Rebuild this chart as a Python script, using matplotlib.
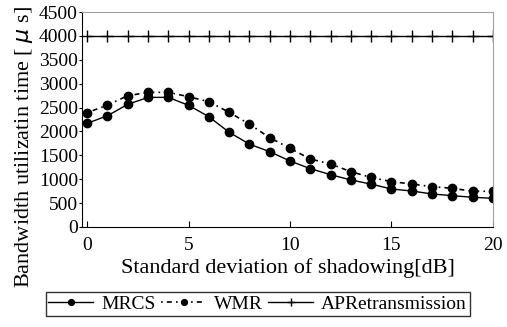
import matplotlib.pyplot as plt

plt.rcParams['font.family'] = ['Liberation Serif', 'DejaVu Serif']

# standard deviation of shadowing [dB]
sigma = list(range(0, 21))

mrcs = [2170, 2330, 2568, 2714, 2714, 2547, 2309, 1982, 1734, 1576, 1381,
        1221, 1095, 984, 897, 795, 753, 691, 655, 621, 600]
wmr = [2393, 2553, 2749, 2819, 2819, 2728, 2623, 2400, 2152, 1869, 1647,
       1423, 1319, 1158, 1036, 949, 900, 844, 810, 747, 747]
apr = [4000] * len(sigma)

fig = plt.figure(figsize=(5.07, 3.27), dpi=100)
ax = fig.add_axes([0.162, 0.306, 0.810, 0.657])

ax.plot(sigma, mrcs, color='black', lw=1, marker='o', ms=6, label='MRCS')
ax.plot(sigma, wmr, color='black', lw=1.2, ls=(0, (1, 2.5, 3, 2.5)), marker='o',
        ms=6, label='WMR')
ax.plot(sigma, apr, color='black', lw=1, marker='+', ms=9, mew=1,
        label='APRetransmission')

ax.set_xlim(-0.25, 20)
ax.set_ylim(0, 4500)
ax.set_xticks([0, 5, 10, 15, 20])
ax.set_yticks(range(0, 4501, 500))
ax.tick_params(axis='x', direction='in', length=4, labelsize=14, pad=7)
ax.tick_params(axis='y', direction='out', length=2, labelsize=14, pad=1)

for side in ['top', 'right']:
    ax.spines[side].set_color('#a0a0a0')

ax.set_xlabel('Standard deviation of shadowing[dB]', fontsize=16, labelpad=3)
ax.set_ylabel('Bandwidth utilizatin time [ $\\mu$ s]', fontsize=16, labelpad=2)
ax.yaxis.set_label_coords(-0.115, 0.37)

leg = fig.legend(loc='lower center', bbox_to_anchor=(0.508, 0.005), ncol=3,
                 fontsize=14, frameon=True, fancybox=False, edgecolor='black',
                 handlelength=2.3, handletextpad=0.4, columnspacing=0.3,
                 borderpad=0.15, markerscale=0.7)
leg.get_frame().set_linewidth(1)

fig.savefig('out.png', dpi=100)
